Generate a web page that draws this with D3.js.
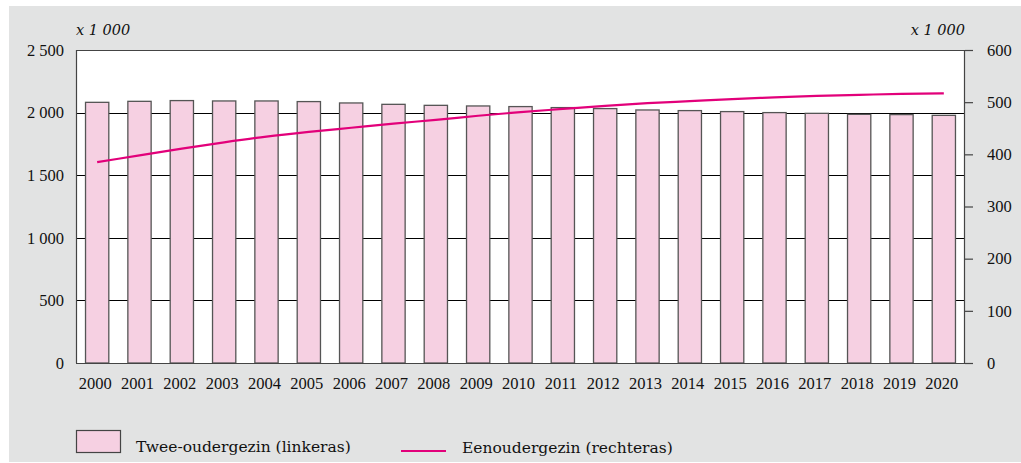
<!DOCTYPE html>
<html>
<head>
<meta charset="utf-8">
<script src="https://cdn.jsdelivr.net/npm/d3@7"></script>
<style>
  body { margin: 0; background: #fff; }
  svg { display: block; font-family: "Liberation Serif", serif; }
</style>
</head>
<body>
<div id="chart"></div>
<script>
// data
var years = ["2000","2001","2002","2003","2004","2005","2006","2007","2008","2009","2010",
             "2011","2012","2013","2014","2015","2016","2017","2018","2019","2020"];
var tweeOuder = [2082, 2090, 2096, 2093, 2093, 2088, 2077, 2066, 2058, 2053, 2048,
                 2040, 2032, 2021, 2016, 2008, 2000, 1994, 1986, 1984, 1978];
var eenOuder = [385, 398, 411, 423, 434, 443, 451, 459, 466, 474, 481,
                487, 493, 498, 502, 506, 509, 512, 514, 516, 517];
var leftTicks = [0, 500, 1000, 1500, 2000, 2500];
var rightTicks = [0, 100, 200, 300, 400, 500, 600];

var svgWidth = 1021, svgHeight = 463;
var margin = { top: 50, right: 56, bottom: 100, left: 76 };
var width = svgWidth - margin.left - margin.right;   // 889
var height = svgHeight - margin.top - margin.bottom; // 313

// thousands separated by a space
var fmt = function(d) { return d3.format(",")(d).replace(",", "\u00a0"); };

var svg = d3.select("#chart").append("svg")
  .attr("width", svgWidth)
  .attr("height", svgHeight);

// grey panel
svg.append("rect")
  .attr("x", 9).attr("y", 6)
  .attr("width", svgWidth - 9).attr("height", svgHeight - 7)
  .attr("fill", "#e2e3e3");

var g = svg.append("g")
  .attr("transform", `translate(${margin.left}, ${margin.top})`);

// plot area
g.append("rect")
  .attr("width", width).attr("height", height)
  .attr("fill", "#fff");

// scales
var x = d3.scaleBand()
  .domain(years)
  .range([0, width])
  .paddingInner(0.45)
  .paddingOuter(0.225);

var yLeft = d3.scaleLinear().domain([0, 2500]).range([height, 0]);
var yRight = d3.scaleLinear().domain([0, 600]).range([height, 0]);

// gridlines (left axis)
g.selectAll(".grid")
  .data(leftTicks.slice(1, -1))
  .enter().append("line")
  .attr("x1", 0).attr("x2", width)
  .attr("y1", d => Math.round(yLeft(d)) + 0.5)
  .attr("y2", d => Math.round(yLeft(d)) + 0.5)
  .attr("stroke", "#000").attr("stroke-width", 1);

// bars
g.selectAll(".bar")
  .data(tweeOuder)
  .enter().append("rect")
  .attr("x", (d, i) => x(years[i]))
  .attr("y", d => yLeft(d))
  .attr("width", x.bandwidth())
  .attr("height", d => height - yLeft(d))
  .attr("fill", "#f6d0e2")
  .attr("stroke", "#555")
  .attr("stroke-width", 1.3);

// line
var line = d3.line()
  .x((d, i) => x(years[i]) + x.bandwidth() / 2)
  .y(d => yRight(d))
  .curve(d3.curveMonotoneX);

g.append("path")
  .datum(eenOuder)
  .attr("d", line)
  .attr("fill", "none")
  .attr("stroke", "#e2007a")
  .attr("stroke-width", 2.2);

// frame: top and right border, left axis line
g.append("path")
  .attr("d", `M0.5,${height}V0.5H${width - 0.5}V${height}`)
  .attr("fill", "none")
  .attr("stroke", "#444")
  .attr("stroke-width", 1.2);

// left axis
var leftAxis = d3.axisLeft(yLeft).tickValues(leftTicks).tickSize(0).tickPadding(12).tickFormat(fmt);
var gl = g.append("g").call(leftAxis);
gl.select(".domain").remove();

// right axis
var rightAxis = d3.axisRight(yRight).tickValues(rightTicks).tickSize(8).tickPadding(14);
var gr = g.append("g").attr("transform", `translate(${width}, 0)`).call(rightAxis);
gr.select(".domain").remove();
gr.selectAll(".tick line").attr("stroke", "#444").attr("stroke-width", 1.2);

// bottom axis
var bottomAxis = d3.axisBottom(x).tickSize(0).tickPadding(14);
var gb = g.append("g").attr("transform", `translate(-2, ${height})`).call(bottomAxis);
gb.select(".domain").remove();
g.append("line")
  .attr("x1", 0).attr("x2", width + 8)
  .attr("y1", height + 0.5).attr("y2", height + 0.5)
  .attr("stroke", "#444").attr("stroke-width", 1.2);

svg.selectAll(".tick text")
  .attr("font-family", "Liberation Serif, serif")
  .attr("font-size", "16.5px")
  .attr("fill", "#111");

// unit labels
svg.append("text")
  .attr("x", margin.left).attr("y", 35)
  .attr("font-family", "DejaVu Serif, serif")
  .attr("font-style", "italic").attr("font-size", "14.5px").attr("fill", "#111")
  .text("x 1 000");
svg.append("text")
  .attr("x", margin.left + width).attr("y", 35)
  .attr("text-anchor", "end")
  .attr("font-family", "DejaVu Serif, serif")
  .attr("font-style", "italic").attr("font-size", "14.5px").attr("fill", "#111")
  .text("x 1 000");

// legend
var legend = svg.append("g")
  .attr("font-family", "DejaVu Serif, serif")
  .attr("font-size", "15.5px")
  .attr("fill", "#111");
legend.append("rect")
  .attr("x", 76.5).attr("y", 430.5)
  .attr("width", 44).attr("height", 22)
  .attr("fill", "#f6d0e2").attr("stroke", "#444").attr("stroke-width", 1.2);
legend.append("text")
  .attr("x", 136).attr("y", 452)
  .text("Twee-oudergezin (linkeras)");
legend.append("line")
  .attr("x1", 401).attr("x2", 446)
  .attr("y1", 451).attr("y2", 451)
  .attr("stroke", "#e2007a").attr("stroke-width", 2.2);
legend.append("text")
  .attr("x", 462).attr("y", 453)
  .text("Eenoudergezin (rechteras)");
</script>
</body>
</html>
